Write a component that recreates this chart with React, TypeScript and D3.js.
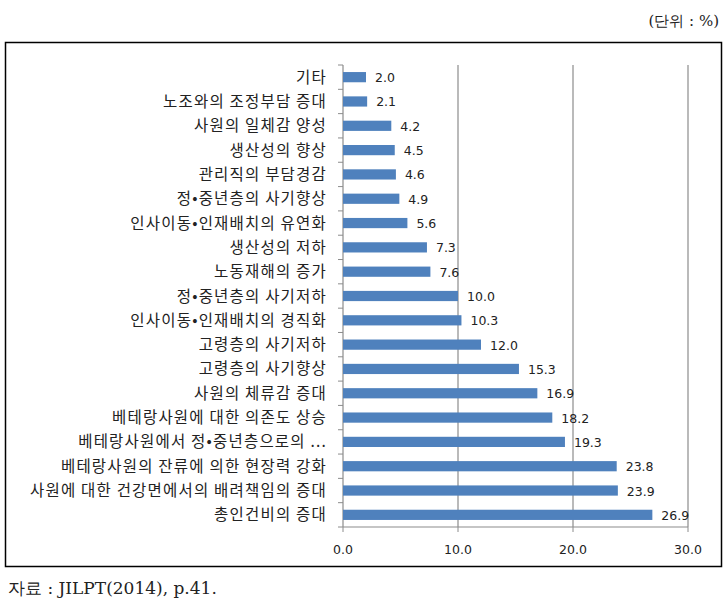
import React from "react";
import * as d3 from "d3";

const categories = [
  "기타",
  "노조와의 조정부담 증대",
  "사원의 일체감 양성",
  "생산성의 향상",
  "관리직의 부담경감",
  "정•중년층의 사기향상",
  "인사이동•인재배치의 유연화",
  "생산성의 저하",
  "노동재해의 증가",
  "정•중년층의 사기저하",
  "인사이동•인재배치의 경직화",
  "고령층의 사기저하",
  "고령층의 사기향상",
  "사원의 체류감 증대",
  "베테랑사원에 대한 의존도 상승",
  "베테랑사원에서 정•중년층으로의 ...",
  "베테랑사원의 잔류에 의한 현장력 강화",
  "사원에 대한 건강면에서의 배려책임의 증대",
  "총인건비의 증대",
];
const values = [2.0, 2.1, 4.2, 4.5, 4.6, 4.9, 5.6, 7.3, 7.6, 10.0, 10.3, 12.0, 15.3, 16.9, 18.2, 19.3, 23.8, 23.9, 26.9];
const xTicks = [0, 10, 20, 30];
const unitText = "(단위 : %)";
const sourceText = "자료 : JILPT(2014),  p.41.";

export default function App() {
  const W = 728, H = 611;
  const x = d3.scaleLinear().domain([0, 30]).range([343, 688]);
  const y = d3.scaleBand<string>().domain(categories).range([65, 527]).paddingInner(0.58).paddingOuter(0.29);
  const grid = "#8c8c8c";
  const labelFont = "'Noto Sans CJK KR', 'Noto Sans', sans-serif";
  const numFont = "'DejaVu Sans', 'Noto Sans', sans-serif";
  const boundaries = d3.range(categories.length + 1).map((i) => 65 + i * ((527 - 65) / categories.length));
  return (
    <svg width={W} height={H} style={{ position: "absolute", left: 0, top: 0, background: "#fff" }}>
      <text x={719} y={26} textAnchor="end" fontFamily="'DejaVu Serif', serif" fontSize={15} fill="#222">{unitText}</text>
      <rect x={5.5} y={42.5} width={716} height={524} fill="none" stroke="#000" strokeWidth={1.5} />
      {xTicks.filter((t) => t > 0).map((t) => (
        <line key={"g" + t} x1={x(t)} x2={x(t)} y1={65} y2={527} stroke={grid} strokeWidth={1.2} />
      ))}
      <line x1={x(0)} x2={x(0)} y1={65} y2={527} stroke={grid} strokeWidth={1.2} />
      {boundaries.map((b, i) => (
        <line key={"yt" + i} x1={x(0) - 5} x2={x(0)} y1={b} y2={b} stroke={grid} strokeWidth={1} />
      ))}
      <line x1={x(0)} x2={x(30)} y1={527} y2={527} stroke={grid} strokeWidth={1.2} />
      {xTicks.map((t) => (
        <g key={"xt" + t}>
          <line x1={x(t)} x2={x(t)} y1={527} y2={532} stroke={grid} strokeWidth={1} />
          <text x={x(t)} y={554} textAnchor="middle" fontFamily={numFont} fontSize={12.5} fill="#222">{t.toFixed(1)}</text>
        </g>
      ))}
      {categories.map((c, i) => {
        const yc = (y(c) as number) + y.bandwidth() / 2;
        return (
          <g key={c}>
            <rect x={x(0)} y={y(c)} width={x(values[i]) - x(0)} height={y.bandwidth()} fill="#4f81bd" />
            <text x={x(values[i]) + 9} y={yc + 5} fontFamily={numFont} fontSize={12.5} fill="#222">{values[i].toFixed(1)}</text>
            <text x={327} y={yc + 5.5} textAnchor="end" fontFamily={labelFont} fontSize={15.5} letterSpacing={1.2} fill="#222">{c}</text>
          </g>
        );
      })}
      <text x={8} y={594} fontFamily="'DejaVu Serif', serif" fontSize={17} fill="#222">{sourceText}</text>
    </svg>
  );
}
